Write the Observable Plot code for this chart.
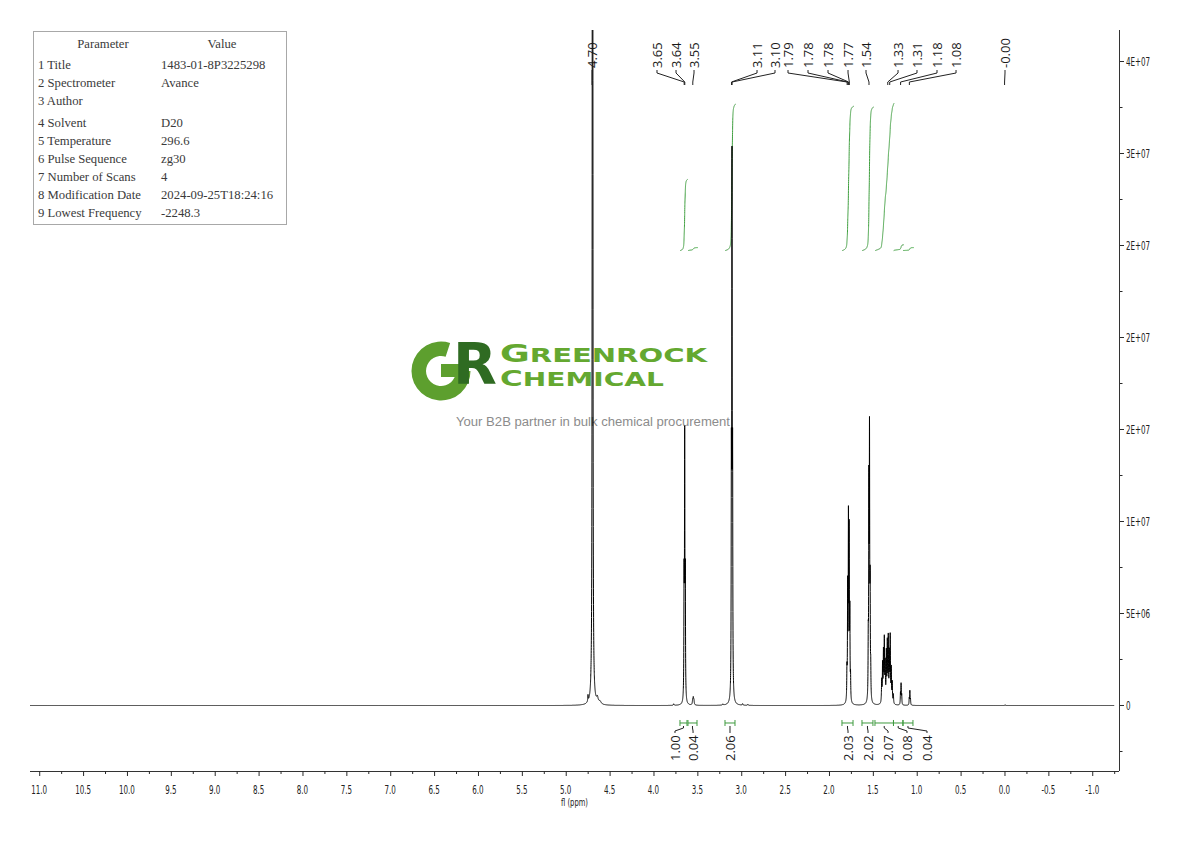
<!DOCTYPE html>
<html>
<head>
<meta charset="utf-8">
<script src="https://cdn.jsdelivr.net/npm/d3@7"></script>
<script src="https://cdn.jsdelivr.net/npm/@observablehq/plot@0.6"></script>
<style>
  html, body { margin: 0; padding: 0; background: #fff; overflow: hidden; }
  #wrap { position: relative; width: 1190px; height: 841px; }
  #params {
    position: absolute; left: 33px; top: 31px; width: 252px; height: 192px;
    border: 1px solid #a8a8a8; background: #fff;
    font-family: "Liberation Serif", "DejaVu Serif", serif; font-size: 12.7px; color: #3a3a3a;
  }
  #params div { position: absolute; white-space: nowrap; line-height: 14px; }
</style>
</head>
<body>
<div id="wrap"></div>
<script>
// ---------- 1H NMR peak list (D2O) ----------
// chemical shift (ppm), peak height (intensity), half width at half height (ppm)
const linePpm = [
  4.700, 4.752, 4.645, 4.615,
  3.775,
  3.657, 3.650, 3.643,
  3.559, 3.552, 3.545,
  3.215,
  3.118, 3.111, 3.104,
  2.990, 2.930,
  1.801, 1.793, 1.784, 1.776, 1.768, 1.760,
  1.558, 1.551, 1.544, 1.537, 1.530,
  1.405, 1.395, 1.385, 1.375, 1.365, 1.352, 1.341, 1.330, 1.318, 1.308, 1.296, 1.285, 1.272,
  1.191, 1.184, 1.177,
  1.091, 1.084, 1.077,
  -0.001
];
const lineHeight = [
  300e6, 0.35e6, 0.30e6, 0.15e6,
  0.08e6,
  6.2e6, 13.8e6, 6.2e6,
  0.25e6, 0.35e6, 0.25e6,
  0.06e6,
  11.5e6, 27.8e6, 11.5e6,
  0.08e6, 0.05e6,
  1.5e6, 6.0e6, 9.5e6, 8.7e6, 4.5e6, 1.2e6,
  2.8e6, 11.0e6, 13.7e6, 5.5e6, 1.5e6,
  1.2e6, 2.0e6, 2.6e6, 3.3e6, 2.0e6, 2.6e6, 3.1e6, 3.4e6, 2.5e6, 3.5e6, 1.8e6, 1.1e6, 0.5e6,
  0.6e6, 1.1e6, 0.5e6,
  0.35e6, 0.75e6, 0.3e6,
  0.04e6
];
const lineWidth = [
  0.0015, 0.003, 0.010, 0.015,
  0.004,
  0.0025, 0.0025, 0.0025,
  0.004, 0.004, 0.004,
  0.004,
  0.0025, 0.0025, 0.0025,
  0.004, 0.004,
  0.0025, 0.0025, 0.0025, 0.0025, 0.0025, 0.0025,
  0.0025, 0.0025, 0.0025, 0.0025, 0.0025,
  0.003, 0.003, 0.003, 0.003, 0.003, 0.003, 0.003, 0.003, 0.003, 0.003, 0.003, 0.003, 0.003,
  0.0025, 0.0025, 0.0025,
  0.0025, 0.0025, 0.0025,
  0.003
];

// Picked peaks (labelled along the top) and where each label sits on the ppm axis
const pickedPpm      = [4.700, 3.650, 3.643, 3.552, 3.111, 3.104, 1.793, 1.784, 1.776, 1.768, 1.544, 1.330, 1.308, 1.184, 1.084, -0.001];
const pickedLabelPpm = [4.700, 3.960, 3.743, 3.538, 2.820, 2.615, 2.467, 2.239, 2.011, 1.783, 1.578, 1.213, 0.997, 0.769, 0.552, -0.006];

// Integration regions (ppm, from -> to), relative integrals, label positions
const integralFrom     = [3.698, 3.607, 3.185, 1.852, 1.624, 1.476, 1.265, 1.157];
const integralTo       = [3.618, 3.504, 3.071, 1.726, 1.499, 1.265, 1.157, 1.043];
const integralValue    = [1.00, 0.04, 2.06, 2.03, 2.02, 2.07, 0.08, 0.04];
const integralLabelPpm = [3.755, 3.549, 3.128, 1.783, 1.555, 1.327, 1.111, 0.883];

// Axis ticks
const xTicks = [11.0, 10.5, 10.0, 9.5, 9.0, 8.5, 8.0, 7.5, 7.0, 6.5, 6.0, 5.5, 5.0, 4.5, 4.0, 3.5, 3.0, 2.5, 2.0, 1.5, 1.0, 0.5, 0.0, -0.5, -1.0];
const xTickLabels = ["11.0","10.5","10.0","9.5","9.0","8.5","8.0","7.5","7.0","6.5","6.0","5.5","5.0","4.5","4.0","3.5","3.0","2.5","2.0","1.5","1.0","0.5","0.0","-0.5","-1.0"];
const xMinorTicks = [10.75, 10.25, 9.75, 9.25, 8.75, 8.25, 7.75, 7.25, 6.75, 6.25, 5.75, 5.25, 4.75, 4.25, 3.75, 3.25, 2.75, 2.25, 1.75, 1.25, 0.75, 0.25, -0.25, -0.75, -1.25];
const yTicks = [0, 5e6, 10e6, 15e6, 20e6, 25e6, 30e6, 35e6];
const yTickLabels = ["0", "5E+06", "1E+07", "2E+07", "2E+07", "2E+07", "3E+07", "4E+07"];
const yMinorTicks = [-2.5e6, 2.5e6, 7.5e6, 12.5e6, 17.5e6, 22.5e6, 27.5e6, 32.5e6];

// Acquisition parameters
const paramNames  = ["1 Title", "2 Spectrometer", "3 Author", "4 Solvent", "5 Temperature", "6 Pulse Sequence", "7 Number of Scans", "8 Modification Date", "9 Lowest Frequency"];
const paramValues = ["1483-01-8P3225298", "Avance", "", "D20", "296.6", "zg30", "4", "2024-09-25T18:24:16", "-2248.3"];

// ---------- derived data ----------
const PPM_LEFT = 11.105, PPM_RIGHT = -1.305, SPEC_END = -1.24;
const Y_MIN = -3.587e6, Y_MAX = 36.685e6;

// Spectrum: sum of Lorentzian lines from the peak list
const grid = d3.range(PPM_LEFT, SPEC_END, -0.0004).concat(linePpm).sort((a, b) => b - a);
const spectrum = grid.map(p => ({
  ppm: p,
  v: d3.sum(linePpm, (c, i) => lineHeight[i] * lineWidth[i] ** 2 / ((p - c) ** 2 + lineWidth[i] ** 2))
}));

// Integral curves: running integral of the spectrum over each region, scaled to its value
const INT_BASE = 24.73e6, INT_UNIT = 3.86e6;
const integralCurves = integralValue.flatMap((val, k) => {
  const pts = spectrum.filter(d => d.ppm <= integralFrom[k] && d.ppm >= integralTo[k]);
  const cum = [0];
  for (let i = 1; i < pts.length; i++) {
    cum.push(cum[i - 1] + (pts[i - 1].v + pts[i].v) / 2 * (pts[i - 1].ppm - pts[i].ppm));
  }
  const total = cum[cum.length - 1];
  return pts.map((d, i) => ({region: k, ppm: d.ppm, v: INT_BASE + cum[i] / total * val * INT_UNIT}));
});

const LABEL_FONT = "'Open Sans', 'Noto Sans', sans-serif";
const TICK_FONT = "'DejaVu Sans', sans-serif";

// ---------- custom render marks ----------
function watermark() {
  const g = d3.create("svg:g").attr("pointer-events", "none").attr("text-anchor", "start");
  const ring = d3.arc()({innerRadius: 15, outerRadius: 29.5, startAngle: Math.PI * 0.5, endAngle: Math.PI * 2.1});
  g.append("path").attr("transform", "translate(441,371)").attr("d", ring).attr("fill", "#5d9f2e");
  g.append("rect").attr("x", 441).attr("y", 364).attr("width", 26).attr("height", 13).attr("fill", "#5d9f2e");
  g.append("text").attr("x", 453).attr("y", 384)
    .attr("font-family", TICK_FONT).attr("font-weight", "bold").attr("font-size", 57)
    .attr("fill", "#2f6b22").text("R");
  const t1 = g.append("text").attr("x", 500).attr("y", 362)
    .attr("font-family", TICK_FONT).attr("font-weight", "bold").attr("fill", "#64a830")
    .attr("textLength", 207).attr("lengthAdjust", "spacingAndGlyphs");
  t1.append("tspan").attr("font-size", 25).text("G");
  t1.append("tspan").attr("font-size", 20).text("REENROCK");
  const t2 = g.append("text").attr("x", 500).attr("y", 386)
    .attr("font-family", TICK_FONT).attr("font-weight", "bold").attr("fill", "#64a830")
    .attr("textLength", 164).attr("lengthAdjust", "spacingAndGlyphs");
  t2.append("tspan").attr("font-size", 21).text("C");
  t2.append("tspan").attr("font-size", 19).text("HEMICAL");
  g.append("text").attr("x", 456).attr("y", 426)
    .attr("font-family", "'Liberation Sans', Arial, sans-serif").attr("font-size", 12.5).attr("fill", "#8c8c8c")
    .attr("textLength", 274).attr("lengthAdjust", "spacingAndGlyphs")
    .text("Your B2B partner in bulk chemical procurement");
  return g.node();
}

function peakLabels(index, scales, values, dims) {
  const g = d3.create("svg:g").attr("text-anchor", "start");
  const t = dims.marginTop;
  pickedPpm.forEach((p, i) => {
    const xl = scales.x(pickedLabelPpm[i]), xp = scales.x(p);
    g.append("path").attr("fill", "none").attr("stroke", "#222").attr("stroke-width", 1)
      .attr("d", `M${xl},${t + 40}V${t + 43}L${xp},${t + 52}V${t + 55}`);
    g.append("text").attr("transform", `translate(${xl},${t + 38}) rotate(-90)`)
      .attr("dy", "0.35em").attr("font-family", LABEL_FONT).attr("font-size", 13).attr("fill", "#1a1a1a")
      .text(p.toFixed(2));
  });
  return g.node();
}

function integralLabels(index, scales, values, dims) {
  const g = d3.create("svg:g").attr("text-anchor", "start");
  const y0 = scales.y(0);
  integralValue.forEach((val, k) => {
    const x1 = scales.x(integralFrom[k]), x2 = scales.x(integralTo[k]);
    const xm = (x1 + x2) / 2, xl = scales.x(integralLabelPpm[k]);
    g.append("path").attr("fill", "none").attr("stroke", "#3f9a3f").attr("stroke-width", 1)
      .attr("d", `M${x1},${y0 + 15}V${y0 + 21}M${x1},${y0 + 18}H${x2}M${x2},${y0 + 15}V${y0 + 21}`);
    g.append("path").attr("fill", "none").attr("stroke", "#222").attr("stroke-width", 1)
      .attr("d", `M${xm},${y0 + 21}V${y0 + 23}L${xl},${y0 + 26}V${y0 + 28}`);
    g.append("text").attr("transform", `translate(${xl},${y0 + 56}) rotate(-90)`)
      .attr("dy", "0.35em").attr("font-family", LABEL_FONT).attr("font-size", 13).attr("fill", "#1a1a1a")
      .text(val.toFixed(2));
  });
  return g.node();
}

// Tick labels in a narrow face, placed through the plot's scales
function tickLabels(index, scales, values, dims) {
  const g = d3.create("svg:g").attr("font-family", TICK_FONT).attr("font-size", 13).attr("fill", "#222");
  const yb = dims.height - dims.marginBottom;
  const xr = dims.width - dims.marginRight;
  xTicks.forEach((t, i) => {
    g.append("text").attr("transform", `translate(${scales.x(t)},${yb + 18}) scale(0.55,1)`)
      .attr("text-anchor", "middle").attr("dy", "0.35em").text(xTickLabels[i]);
  });
  yTicks.forEach((t, i) => {
    g.append("text").attr("transform", `translate(${xr + 7},${scales.y(t)}) scale(0.55,1)`)
      .attr("text-anchor", "start").attr("dy", "0.35em").text(yTickLabels[i]);
  });
  g.append("text")
    .attr("transform", `translate(${(dims.marginLeft + xr) / 2},${yb + 31}) scale(0.62,1)`)
    .attr("text-anchor", "middle").attr("dy", "0.35em").attr("font-size", 11)
    .text("fl (ppm)");
  return g.node();
}

// ---------- chart ----------
const chart = Plot.plot({
  width: 1190,
  height: 841,
  marginLeft: 30,
  marginRight: 71,
  marginTop: 30,
  marginBottom: 70,
  style: {background: "transparent", color: "#2a2a2a"},
  x: {domain: [PPM_LEFT, PPM_RIGHT]},
  y: {domain: [Y_MIN, Y_MAX]},
  marks: [
    watermark,
    Plot.ruleY([Y_MIN], {stroke: "#333", strokeWidth: 1}),
    Plot.ruleX([PPM_RIGHT], {stroke: "#333", strokeWidth: 1}),
    Plot.axisX(xTicks, {anchor: "bottom", tickSize: 5, tickFormat: () => "", label: null}),
    Plot.axisX(xMinorTicks, {anchor: "bottom", tickSize: 3, tickFormat: () => "", label: null}),
    Plot.axisY(yTicks, {anchor: "right", tickSize: 4, tickFormat: () => "", label: null}),
    Plot.axisY(yMinorTicks, {anchor: "right", tickSize: 2.5, tickFormat: () => "", label: null}),
    tickLabels,
    Plot.line(integralCurves, {x: "ppm", y: "v", z: "region", stroke: "#3f9f3f", strokeWidth: 1}),
    Plot.line(spectrum, {x: "ppm", y: "v", stroke: "#000", strokeWidth: 1, clip: true}),
    peakLabels,
    integralLabels
  ]
});

const wrap = document.getElementById("wrap");
wrap.appendChild(chart);

// parameter table
const table = document.createElement("div");
table.id = "params";
const BOX_LEFT = 33, BOX_TOP = 31;
function cell(text, left, centerY, centered) {
  const d = document.createElement("div");
  d.textContent = text;
  d.style.top = (centerY - BOX_TOP - 8) + "px";
  d.style.left = (left - BOX_LEFT) + "px";
  if (centered) d.style.transform = "translateX(-50%)";
  table.appendChild(d);
}
cell("Parameter", 102, 44, true);
cell("Value", 221, 44, true);
paramNames.forEach((name, i) => {
  const cy = 65 + i * 18 + (i >= 3 ? 4 : 0);
  cell(name, 37, cy, false);
  cell(paramValues[i], 160, cy, false);
});
wrap.appendChild(table);
</script>
</body>
</html>
